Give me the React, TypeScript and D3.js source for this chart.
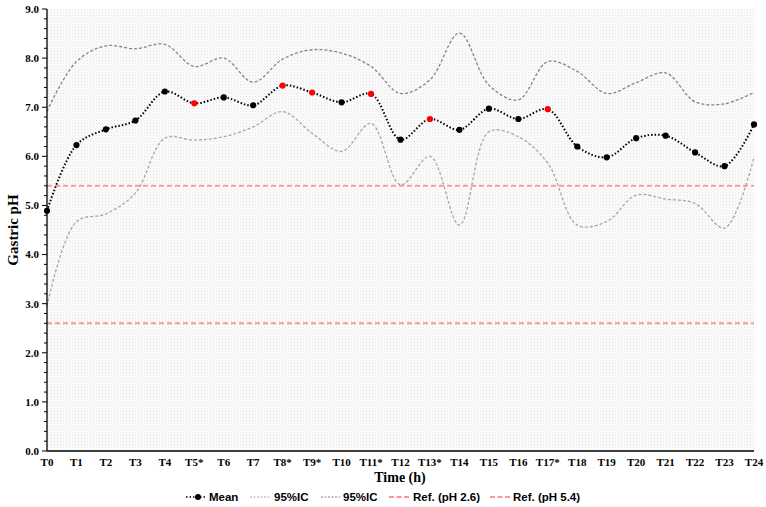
import React from "react";
import * as d3 from "d3";

const categories = ["T0","T1","T2","T3","T4","T5*","T6","T7","T8*","T9*","T10","T11*","T12","T13*","T14","T15","T16","T17*","T18","T19","T20","T21","T22","T23","T24"];
const meanValues = [4.89,6.23,6.55,6.73,7.32,7.08,7.20,7.04,7.44,7.30,7.10,7.27,6.34,6.76,6.54,6.97,6.76,6.96,6.20,5.98,6.37,6.42,6.08,5.80,6.65];
const upperCI = [6.92,7.93,8.25,8.19,8.28,7.83,8.00,7.51,7.98,8.17,8.10,7.83,7.28,7.56,8.51,7.45,7.15,7.93,7.73,7.28,7.50,7.70,7.11,7.07,7.30];
const lowerCI = [2.95,4.67,4.83,5.25,6.37,6.33,6.40,6.60,6.91,6.47,6.10,6.67,5.42,6.00,4.60,6.50,6.40,5.86,4.60,4.67,5.21,5.13,5.04,4.54,5.98];
const refLow = 2.6;
const refHigh = 5.4;
const yTicks = [0,1,2,3,4,5,6,7,8,9];

const W = 766, H = 507;
const left = 47, right = 754, top = 9, bottom = 451;

export default function App() {
  const x = d3.scalePoint<string>().domain(categories).range([left, right]);
  const y = d3.scaleLinear().domain([0, 9]).range([bottom, top]);
  const line = d3.line<number>()
    .x((_, i) => x(categories[i]) as number)
    .y((d) => y(d))
    .curve(d3.curveCatmullRom.alpha(0.5));
  const minor = d3.range(0, 9.001, 0.2).filter((v) => Math.abs(v - Math.round(v)) > 0.01);
  const serif = "'Liberation Serif', 'Times New Roman', serif";
  const sans = "'Liberation Sans', Arial, sans-serif";
  const refColor = "#ff9797";
  const legendY = 497;
  return (
    <svg width={W} height={H} style={{ position: "absolute", left: 0, top: 0 }}>
      <defs>
        <pattern id="dots" width="3" height="3" patternUnits="userSpaceOnUse">
          <rect width="3" height="3" fill="#fcfcfc" />
          <rect width="1" height="1" fill="#e2e2e2" />
          <rect x="1.5" y="1.5" width="1" height="1" fill="#ececec" />
        </pattern>
      </defs>
      <rect x={0} y={0} width={W} height={H} fill="#fff" />
      <rect x={left} y={top} width={right - left} height={bottom - top} fill="url(#dots)" />
      {[refLow, refHigh].map((r) => (
        <line key={r} x1={left} x2={right} y1={y(r)} y2={y(r)} stroke={refColor} strokeWidth={2} strokeDasharray="5,3" />
      ))}
      <path d={line(lowerCI) || ""} fill="none" stroke="#a8a8a8" strokeWidth={1.3} strokeDasharray="3,2" />
      <path d={line(upperCI) || ""} fill="none" stroke="#858585" strokeWidth={1.3} strokeDasharray="3,2" />
      <path d={line(meanValues) || ""} fill="none" stroke="#000" strokeWidth={2} strokeDasharray="1.5,2" />
      {meanValues.map((v, i) => (
        <circle key={i} cx={x(categories[i])} cy={y(v)} r={3.1}
          fill={categories[i].includes("*") ? "#ff0000" : "#000"} />
      ))}
      <line x1={left} x2={left} y1={top} y2={bottom} stroke="#000" strokeWidth={1.3} />
      <line x1={left} x2={right} y1={bottom} y2={bottom} stroke="#000" strokeWidth={1.3} />
      {yTicks.map((t) => (
        <g key={t}>
          <line x1={left - 5} x2={left} y1={y(t)} y2={y(t)} stroke="#000" strokeWidth={1} />
          <text x={left - 8} y={y(t)} dy="0.35em" textAnchor="end" fontFamily={serif} fontWeight="bold" fontSize={11}>{t.toFixed(1)}</text>
        </g>
      ))}
      {minor.map((t) => (
        <line key={t} x1={left - 3} x2={left} y1={y(t)} y2={y(t)} stroke="#000" strokeWidth={1} />
      ))}
      {categories.map((c) => (
        <text key={c} x={x(c)} y={462} dy="0.35em" textAnchor="middle" fontFamily={serif} fontWeight="bold" fontSize={11}>{c}</text>
      ))}
      <text x={400} y={477} dy="0.35em" textAnchor="middle" fontFamily={serif} fontWeight="bold" fontSize={14}>Time (h)</text>
      <text transform={`translate(13,${(top + bottom) / 2}) rotate(-90)`} dy="0.35em" textAnchor="middle" fontFamily={serif} fontWeight="bold" fontSize={15}>Gastric pH</text>
      <g fontFamily={sans} fontWeight="bold" fontSize={11.5}>
        <line x1={186} x2={207} y1={legendY} y2={legendY} stroke="#000" strokeWidth={1.5} strokeDasharray="1.5,2" />
        <circle cx={198} cy={legendY} r={3} fill="#000" />
        <text x={209} y={legendY} dy="0.35em">Mean</text>
        <line x1={250} x2={271} y1={legendY} y2={legendY} stroke="#a8a8a8" strokeWidth={1.2} strokeDasharray="2,1.5" />
        <text x={274} y={legendY} dy="0.35em">95%IC</text>
        <line x1={321} x2={340} y1={legendY} y2={legendY} stroke="#808080" strokeWidth={1.2} strokeDasharray="2,1.5" />
        <text x={343} y={legendY} dy="0.35em">95%IC</text>
        <line x1={389} x2={410} y1={legendY} y2={legendY} stroke={refColor} strokeWidth={2} strokeDasharray="5,2.5" />
        <text x={413} y={legendY} dy="0.35em">Ref. (pH 2.6)</text>
        <line x1={490} x2={510} y1={legendY} y2={legendY} stroke={refColor} strokeWidth={2} strokeDasharray="5,2.5" />
        <text x={513} y={legendY} dy="0.35em">Ref. (pH 5.4)</text>
      </g>
    </svg>
  );
}
